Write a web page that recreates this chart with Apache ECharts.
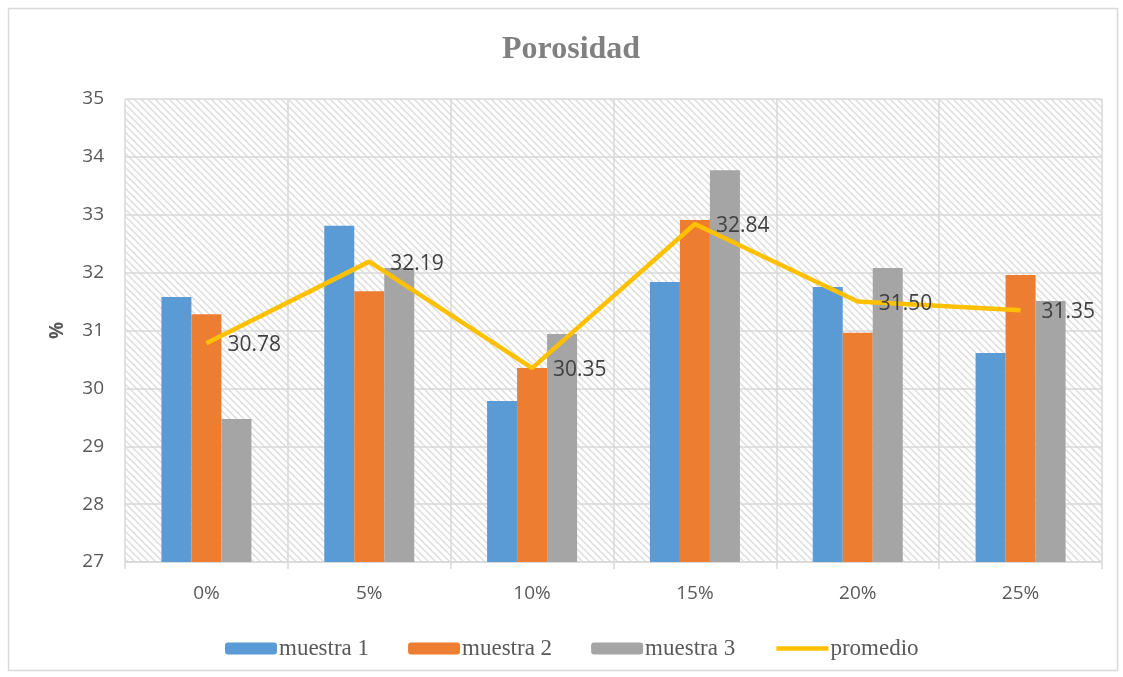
<!DOCTYPE html>
<html>
<head>
<meta charset="utf-8">
<script src="https://cdn.jsdelivr.net/npm/echarts@6/dist/echarts.min.js"></script>
<style>
  html, body { margin: 0; padding: 0; background: #fff; }
  #chart { width: 1123px; height: 677px; }
</style>
</head>
<body>
<div id="chart"></div>
<script>
// Porosity per additive percentage, three samples and their mean
const categories = ['0%', '5%', '10%', '15%', '20%', '25%'];
const muestra1 = [31.58, 32.81, 29.78, 31.84, 31.75, 30.61];
const muestra2 = [31.28, 31.68, 30.35, 32.91, 30.96, 31.96];
const muestra3 = [29.47, 32.08, 30.94, 33.77, 32.08, 31.51];
const promedio = [30.78, 32.19, 30.35, 32.84, 31.50, 31.35];
const yTicks = [27, 28, 29, 30, 31, 32, 33, 34, 35];

// light diagonal hatch used as the plot-area fill
function hatchPattern() {
  const s = 7;
  const c = document.createElement('canvas');
  c.width = s; c.height = s;
  const g = c.getContext('2d');
  g.fillStyle = '#ffffff';
  g.fillRect(0, 0, s, s);
  g.strokeStyle = '#dcdcdc';
  g.lineWidth = 1.4;
  g.beginPath();
  g.moveTo(-1, -1); g.lineTo(s + 1, s + 1);
  g.moveTo(-1, s - 1); g.lineTo(1, s + 1);
  g.moveTo(s - 1, -1); g.lineTo(s + 1, 1);
  g.stroke();
  return { image: c, repeat: 'repeat' };
}

const gridColor = '#d9d9d9';
const textColor = '#595959';
const lineColor = '#ffc000';
const numFont = '"Open Sans", "Liberation Sans", sans-serif';
const serifFont = '"Liberation Serif", "Times New Roman", serif';

const chart = echarts.init(document.getElementById('chart'), null, { renderer: 'canvas' });

const barSeries = (name, data, color) => ({
  name, type: 'bar', data,
  barWidth: 30, barGap: '0%',
  itemStyle: { color },
  z: 2
});

chart.setOption({
  animation: false,
  backgroundColor: '#ffffff',
  title: {
    text: 'Porosidad',
    left: 497,
    top: 29,
    textStyle: { fontFamily: serifFont, fontWeight: 'bold', fontSize: 32, color: '#808080' }
  },
  graphic: [{
    type: 'rect',
    shape: { x: 8.5, y: 8.5, width: 1109, height: 662 },
    style: { fill: 'none', stroke: gridColor, lineWidth: 1.5 },
    silent: true, z: -10
  }],
  legend: {
    left: 220,
    top: 632,
    itemWidth: 52,
    itemHeight: 12,
    itemGap: 39,
    textStyle: { fontFamily: serifFont, fontSize: 23, color: textColor, padding: [0, 0, 0, -3] },
    data: [
      'muestra 1', 'muestra 2', 'muestra 3',
      { name: 'promedio', lineStyle: { width: 4.5, color: lineColor } }
    ]
  },
  grid: {
    left: 125, right: 21, top: 99, bottom: 115,
    show: true,
    borderWidth: 0,
    backgroundColor: hatchPattern()
  },
  xAxis: {
    type: 'category',
    data: categories,
    boundaryGap: true,
    axisLine: { lineStyle: { color: gridColor, width: 1.5 } },
    axisTick: { show: true, length: 7, lineStyle: { color: gridColor, width: 1.5 } },
    splitLine: { show: true, lineStyle: { color: gridColor, width: 1.5 } },
    axisLabel: { margin: 22, fontFamily: numFont, fontSize: 19, color: textColor }
  },
  yAxis: {
    type: 'value',
    min: yTicks[0],
    max: yTicks[yTicks.length - 1],
    interval: 1,
    name: '%',
    nameLocation: 'middle',
    nameGap: 58,
    nameRotate: 90,
    nameTextStyle: { fontFamily: numFont, fontWeight: 'bold', fontSize: 19, color: textColor },
    axisLine: { show: false },
    axisTick: { show: false },
    splitLine: { lineStyle: { color: gridColor, width: 1.5 } },
    axisLabel: { margin: 21, fontFamily: numFont, fontSize: 19, color: textColor }
  },
  series: [
    barSeries('muestra 1', muestra1, '#5b9bd5'),
    barSeries('muestra 2', muestra2, '#ed7d31'),
    barSeries('muestra 3', muestra3, '#a5a5a5'),
    {
      name: 'promedio', type: 'line', data: promedio,
      symbol: 'circle',
      symbolSize: 2,
      showSymbol: true,
      lineStyle: { color: lineColor, width: 4.5 },
      itemStyle: { color: 'rgba(255,192,0,0)' },
      z: 5,
      label: {
        show: true,
        position: 'right',
        distance: 20,
        offset: [0, 2],
        formatter: p => p.value.toFixed(2),
        fontFamily: numFont,
        fontSize: 21,
        color: '#404040'
      }
    }
  ]
});
</script>
</body>
</html>
